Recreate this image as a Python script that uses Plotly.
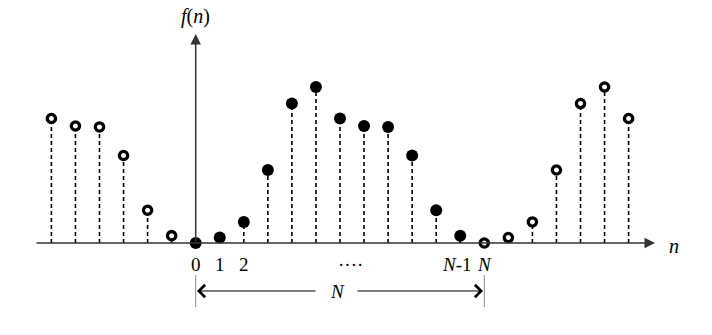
import plotly.graph_objects as go

# ---- data ----
n_main = [0, 1, 2, 3, 4, 5, 6, 7, 8, 9, 10, 11]
f_main = [0.0, 0.35, 1.35, 4.68, 8.94, 10.0, 7.98, 7.5, 7.44, 5.61, 2.1, 0.47]
n_left = [-6, -5, -4, -3, -2, -1]
f_left = [7.98, 7.5, 7.44, 5.61, 2.1, 0.47]
n_right = [12, 13, 14, 15, 16, 17, 18]
f_right = [0.0, 0.35, 1.35, 4.68, 8.94, 10.0, 7.98]
tick_pos = [0, 1, 2, 6.45, 11, 12]
tick_text = ["0", "1", "2", "····", "<i>N</i>-1", "<i>N</i>"]
tick_shift = [0, 0, 0, 0, -3, 0]

# ---- geometry helpers (pixel mapping) ----
W, H = 712, 335
X0PX, DXPX = 195.7, 24.05     # pixel of n=0, pixels per unit n
Y0PX, DYPX = 243.0, 15.6      # pixel of f=0, pixels per unit f
xr = [-X0PX / DXPX, (W - X0PX) / DXPX]
yr = [-(H - Y0PX) / DYPX, Y0PX / DYPX]
def nx(px): return (px - X0PX) / DXPX
def fy(py): return (Y0PX - py) / DYPX

FONT = "Liberation Serif"
AXC = "#333333"

def stems(ns, fs):
    xs, ys = [], []
    for a, b in zip(ns, fs):
        xs += [a, a, None]
        ys += [0, b, None]
    return xs, ys

fig = go.Figure()
all_n = n_left + n_main + n_right
all_f = f_left + f_main + f_right
sx, sy = stems(all_n, all_f)
fig.add_trace(go.Scatter(x=sx, y=sy, mode="lines",
                         line=dict(color="black", width=1.6, dash="4px,3px"),
                         hoverinfo="skip", showlegend=False))

# axes as arrows
fig.add_annotation(x=nx(655), y=0, ax=nx(35), ay=0, xref="x", yref="y",
                   axref="x", ayref="y", text="", showarrow=True,
                   arrowhead=2, arrowsize=1.4, arrowwidth=1.5, arrowcolor=AXC)
fig.add_annotation(x=0, y=fy(34), ax=0, ay=0, xref="x", yref="y",
                   axref="x", ayref="y", text="", showarrow=True,
                   arrowhead=2, arrowsize=1.4, arrowwidth=1.5, arrowcolor=AXC)

# markers
fig.add_trace(go.Scatter(x=n_main, y=f_main, mode="markers",
                         marker=dict(size=12, color="black"),
                         hoverinfo="skip", showlegend=False))
fig.add_trace(go.Scatter(x=n_left + n_right, y=f_left + f_right, mode="markers",
                         marker=dict(size=8.3, color="white",
                                     line=dict(color="black", width=3.3)),
                         hoverinfo="skip", showlegend=False))

# axis labels
fig.add_annotation(x=0, y=fy(16), xref="x", yref="y", text="<i>f</i>(<i>n</i>)",
                   showarrow=False, font=dict(family=FONT, size=20, color="black"))
fig.add_annotation(x=nx(674), y=fy(246), xref="x", yref="y", text="<i>n</i>",
                   showarrow=False, font=dict(family=FONT, size=20, color="black"))

# tick labels
for p, t, s in zip(tick_pos, tick_text, tick_shift):
    fig.add_annotation(x=p, y=fy(264), xref="x", yref="y", text=t, xshift=s,
                       showarrow=False, font=dict(family=FONT, size=19, color="black"))

# period bracket
ybr = fy(291)
fig.add_annotation(x=nx(197), y=ybr, ax=nx(317), ay=ybr, xref="x", yref="y",
                   axref="x", ayref="y", text="", showarrow=True,
                   arrowhead=4, arrowsize=2.0, arrowwidth=1.2, arrowcolor="black")
fig.add_annotation(x=nx(483), y=ybr, ax=nx(356), ay=ybr, xref="x", yref="y",
                   axref="x", ayref="y", text="", showarrow=True,
                   arrowhead=4, arrowsize=2.0, arrowwidth=1.2, arrowcolor="black")
fig.add_annotation(x=nx(337), y=ybr, xref="x", yref="y", text="<i>N</i>",
                   showarrow=False, font=dict(family=FONT, size=19, color="black"))
for p in [0, 12]:
    fig.add_shape(type="line", x0=p, x1=p, y0=fy(275), y1=fy(307),
                  xref="x", yref="y", line=dict(color="#888888", width=1))

fig.update_xaxes(visible=False, range=xr, fixedrange=True)
fig.update_yaxes(visible=False, range=yr, fixedrange=True)
fig.update_layout(width=W, height=H, autosize=False,
                  margin=dict(l=0, r=0, t=0, b=0),
                  paper_bgcolor="white", plot_bgcolor="white")
fig.write_html("out.html")
